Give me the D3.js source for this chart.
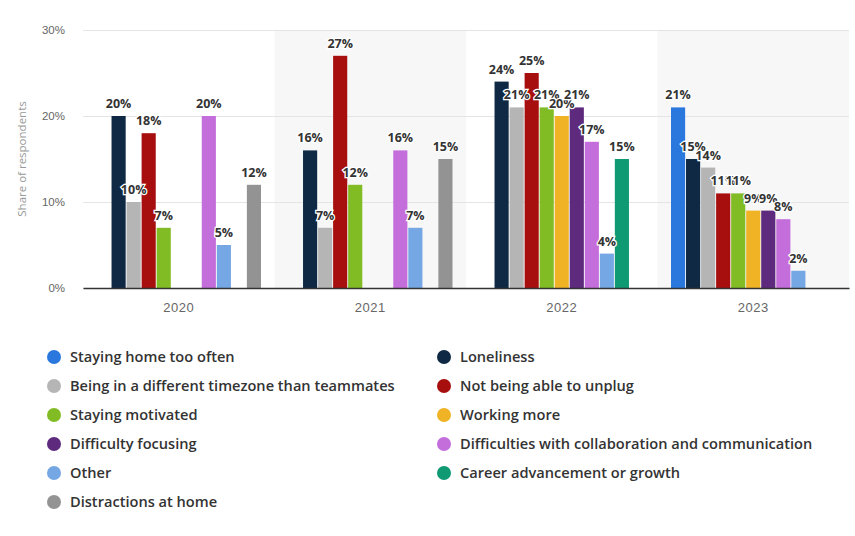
<!DOCTYPE html>
<html>
<head>
<meta charset="utf-8">
<script src="https://cdn.jsdelivr.net/npm/d3@7"></script>
<style>
  body { margin: 0; background: #fff; }
  svg { display: block; font-family: "Open Sans", "DejaVu Sans", sans-serif; }
</style>
</head>
<body>
<script>
// categories (x axis) and series
var years = ["2020", "2021", "2022", "2023"];

var seriesNames = [
  "Staying home too often",
  "Loneliness",
  "Being in a different timezone than teammates",
  "Not being able to unplug",
  "Staying motivated",
  "Working more",
  "Difficulty focusing",
  "Difficulties with collaboration and communication",
  "Other",
  "Career advancement or growth",
  "Distractions at home"
];

var seriesColors = ["#2a78de", "#0f2843", "#b5b5b5", "#a70f0f", "#82bc24", "#f0b325",
                    "#5d2a7d", "#c46edb", "#75a7e4", "#109a74", "#939393"];

// values per series, one per year (null = not asked that year)
var stayingHome   = [null, null, null, 21];
var loneliness    = [20, 16, 24, 15];
var timezone      = [10, 7, 21, 14];
var unplug        = [18, 27, 25, 11];
var motivated     = [7, 12, 21, 11];
var workingMore   = [null, null, 20, 9];
var focusing      = [null, null, 21, 9];
var collaboration = [20, 16, 17, 8];
var other         = [5, 7, 4, 2];
var career        = [null, null, 15, null];
var distractions  = [12, 15, null, null];

var yTicks = [0, 10, 20, 30];

var allValues = [stayingHome, loneliness, timezone, unplug, motivated, workingMore,
                 focusing, collaboration, other, career, distractions];

var rows = [];
seriesNames.forEach(function(s, i) {
  years.forEach(function(yr, j) {
    if (allValues[i][j] != null) rows.push({series: s, year: yr, value: allValues[i][j], idx: i});
  });
});

var width = 855, height = 536;
var svg = d3.select("body").append("svg")
    .attr("width", width)
    .attr("height", height);

var plotLeft = 83, plotRight = 849, plotTop = 30, plotBottom = 288;

var x0 = d3.scaleBand()
    .domain(years)
    .range([plotLeft, plotRight]);

var groupPad = 13.5;
var x1 = d3.scaleBand()
    .domain(seriesNames)
    .range([groupPad, x0.bandwidth() - groupPad])
    .paddingInner(0.06);

var y = d3.scaleLinear()
    .domain([0, 30])
    .range([plotBottom, plotTop]);

// alternate bands
svg.append("g").selectAll("rect")
  .data(years.filter(function(d, i) { return i % 2 == 1; }))
  .enter().append("rect")
    .attr("x", d => x0(d))
    .attr("y", y(30))
    .attr("width", x0.bandwidth())
    .attr("height", y(0) - y(30))
    .attr("fill", "#f7f7f7");

// grid + y labels
var y_axis = d3.axisLeft(y)
    .tickValues(yTicks)
    .tickSize(-(plotRight - plotLeft))
    .tickPadding(18)
    .tickFormat(d => d + "%");

var gy = svg.append("g")
    .attr("transform", "translate(" + plotLeft + ",0)")
    .call(y_axis);
gy.select(".domain").remove();
gy.selectAll("line").attr("stroke", "#e4e4e4");
gy.selectAll("text")
    .attr("fill", "#666")
    .style("font-size", "11.5px");

svg.append("text")
    .attr("transform", "rotate(-90)")
    .attr("x", -(plotTop + plotBottom) / 2)
    .attr("y", 26)
    .attr("text-anchor", "middle")
    .attr("fill", "#999")
    .style("font-size", "11.5px")
    .text("Share of respondents");

// bars
svg.append("g").selectAll("rect")
  .data(rows)
  .enter().append("rect")
    .attr("x", d => x0(d.year) + x1(d.series))
    .attr("y", d => y(d.value))
    .attr("width", x1.bandwidth())
    .attr("height", d => y(0) - y(d.value))
    .attr("fill", d => seriesColors[d.idx]);

// baseline + x labels
var x_axis = d3.axisBottom(x0).tickSize(0).tickPadding(15);
var gx = svg.append("g")
    .attr("transform", "translate(0," + plotBottom + ")")
    .call(x_axis);
gx.select(".domain").attr("stroke", "#333").attr("stroke-width", 1.5);
gx.selectAll("text")
    .attr("fill", "#666")
    .style("font-size", "13px")
    .style("letter-spacing", "0.5px");

// data labels
svg.append("g").selectAll("text")
  .data(rows)
  .enter().append("text")
    .attr("x", d => x0(d.year) + x1(d.series) + x1.bandwidth() / 2)
    .attr("y", d => y(d.value) - 8)
    .attr("text-anchor", "middle")
    .attr("fill", "#333")
    .attr("stroke", "#fff")
    .attr("stroke-width", 2.5)
    .attr("paint-order", "stroke")
    .style("font-size", "12.5px")
    .style("font-weight", "700")
    .text(d => d.value + "%");

// legend
var legend = svg.append("g").selectAll("g")
  .data(seriesNames)
  .enter().append("g")
    .attr("transform", function(d, i) {
      return "translate(" + (i % 2 == 0 ? 54 : 444) + "," + (357 + Math.floor(i / 2) * 29) + ")";
    });

legend.append("circle")
    .attr("r", 7)
    .attr("fill", (d, i) => seriesColors[i]);

legend.append("text")
    .attr("x", 16)
    .attr("y", 5)
    .attr("fill", "#333")
    .style("font-size", "14.6px")
    .style("font-weight", "600")
    .text(d => d);
</script>
</body>
</html>
